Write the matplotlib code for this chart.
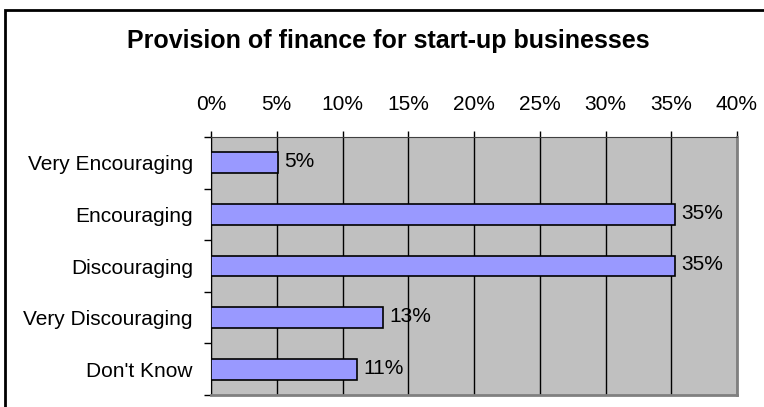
import matplotlib.pyplot as plt
from matplotlib.patches import Rectangle
from matplotlib.ticker import MultipleLocator, FuncFormatter

# survey answers, top to bottom
categories = ['Very Encouraging', 'Encouraging', 'Discouraging',
              'Very Discouraging', "Don't Know"]
shares = [5.1, 35.3, 35.3, 13.1, 11.1]
labels = ['5%', '35%', '35%', '13%', '11%']

plt.rcParams['font.family'] = ['Liberation Sans', 'DejaVu Sans']

W, H = 764, 407
fig = plt.figure(figsize=(W / 100, H / 100), dpi=100)
fig.patch.set_facecolor('white')

# outer chart frame (right/bottom edges run off the picture)
fig.patches.append(Rectangle((5 / W, -0.1), 1.1, 1 - 10 / H + 0.1,
                             transform=fig.transFigure, fill=False,
                             edgecolor='black', linewidth=2, zorder=0))

fig.text(388 / W, 1 - 41 / H, 'Provision of finance for start-up businesses',
         ha='center', va='center', fontsize=18, fontweight='bold')

ax = fig.add_axes([211 / W, 1 - 395 / H, (737 - 211) / W, (395 - 137) / H])
ax.set_facecolor('#c0c0c0')

y = list(range(len(categories)))
ax.barh(y, shares, height=0.4, color='#9999ff', edgecolor='black',
        linewidth=1.2, zorder=3)
for yi, v, lab in zip(y, shares, labels):
    ax.annotate(lab, (v, yi), xytext=(6, 1), textcoords='offset pixels',
                va='center', ha='left', fontsize=15, zorder=4)

ax.set_xlim(0, 40)
ax.set_ylim(len(categories) - 0.5, -0.5)
ax.xaxis.set_major_locator(MultipleLocator(5))
ax.xaxis.set_major_formatter(FuncFormatter(lambda v, p: f'{v:.0f}%'))
ax.xaxis.tick_top()
ax.tick_params(axis='x', direction='out', length=4.5, width=1, pad=12,
               labelsize=15, colors='black')
ax.grid(axis='x', color='black', linewidth=1, zorder=1)

ax.set_yticks(y)
ax.set_yticklabels(categories)
ax.set_yticks([i + 0.5 for i in range(-1, len(categories))], minor=True)
ax.tick_params(axis='y', which='major', length=0, pad=13, labelsize=15)
ax.tick_params(axis='y', which='minor', direction='out', length=5, width=1)

ax.spines['left'].set_color('black')
ax.spines['top'].set_color('#404040')
ax.spines['right'].set_color('#808080')
ax.spines['bottom'].set_color('#808080')
ax.spines['right'].set_linewidth(2)
ax.spines['bottom'].set_linewidth(2)

fig.savefig('out.png', dpi=100)
